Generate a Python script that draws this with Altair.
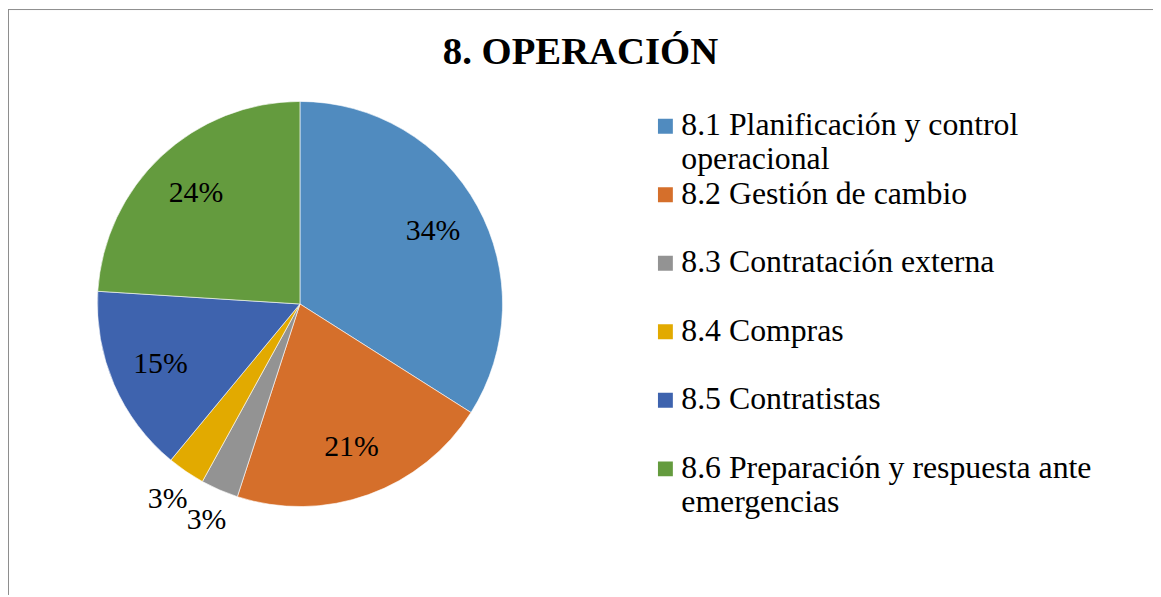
import altair as alt
import pandas as pd

categorias = [
    "8.1 Planificación y control operacional",
    "8.2 Gestión de cambio",
    "8.3 Contratación externa",
    "8.4 Compras",
    "8.5 Contratistas",
    "8.6 Preparación y respuesta ante emergencias",
]
porcentajes = [34, 21, 3, 3, 15, 24]
colores = ["#508BBF", "#D56F2B", "#939393", "#E2AA00", "#3E63AE", "#649B3E"]
orden = list(range(len(categorias)))

df = pd.DataFrame({"categoria": categorias, "porcentaje": porcentajes, "orden": orden})

CX, CY, R = 294, 296, 204
FONT = "Liberation Serif"

label_expr = (
    "datum.label == '8.1 Planificación y control operacional' ? "
    "['8.1 Planificación y control', 'operacional'] : "
    "datum.label == '8.6 Preparación y respuesta ante emergencias' ? "
    "['8.6 Preparación y respuesta ante', 'emergencias'] : datum.label"
)

base = alt.Chart(df).encode(
    theta=alt.Theta("porcentaje:Q", stack=True),
    order=alt.Order("orden:Q"),
)

pie = base.mark_arc(outerRadius=R, stroke="white", strokeWidth=0.6).encode(
    x=alt.value(CX),
    y=alt.value(CY),
    color=alt.Color(
        "categoria:N",
        scale=alt.Scale(domain=categorias, range=colores),
        legend=alt.Legend(
            title=None,
            orient="none",
            legendX=646,
            legendY=106,
            direction="vertical",
            symbolType="M-1,-2.2H1V-0.2H-1Z",
            symbolSize=225,
            symbolStrokeWidth=0,
            labelFont=FONT,
            labelFontSize=32,
            labelColor="black",
            labelBaseline="alphabetic",
            labelLimit=700,
            labelOffset=0,
            rowPadding=3,
            gridAlign="all",
            clipHeight=40,
            labelExpr=label_expr,
            padding=0,
        ),
    ),
)

labels_in = base.mark_text(font=FONT, fontSize=30, color="black").transform_calculate(
    etiqueta="datum.porcentaje >= 5 ? datum.porcentaje + '%' : ''",
).encode(
    x=alt.value(CX),
    y=alt.value(CY),
    radius=alt.value(153),
    text="etiqueta:N",
)

labels_out = base.mark_text(font=FONT, fontSize=30, color="black").transform_calculate(
    etiqueta="datum.porcentaje < 5 ? datum.porcentaje + '%' : ''",
).encode(
    x=alt.value(CX),
    y=alt.value(CY),
    radius=alt.value(237),
    text="etiqueta:N",
)

frame_data = pd.DataFrame({"k": [0]})
frame_top = alt.Chart(frame_data).mark_rule(color="#8c8c8c", strokeWidth=1).encode(
    x=alt.value(0), x2=alt.value(1153), y=alt.value(-0.5)
)
frame_left = alt.Chart(frame_data).mark_rule(color="#8c8c8c", strokeWidth=1).encode(
    x=alt.value(0.5), y=alt.value(-1), y2=alt.value(589)
)

chart = (
    alt.layer(pie, labels_in, labels_out, frame_top, frame_left)
    .properties(
        width=1153,
        height=589,
        autosize="none",
        padding=0,
        title=alt.Title(
            "8. OPERACIÓN",
            font=FONT,
            fontSize=39,
            fontWeight="bold",
            color="black",
            anchor="middle",
            offset=-64,
        ),
    )
    .configure_view(stroke=None)
)

chart.save("out.html", embed_options={"renderer": "svg", "actions": False})
